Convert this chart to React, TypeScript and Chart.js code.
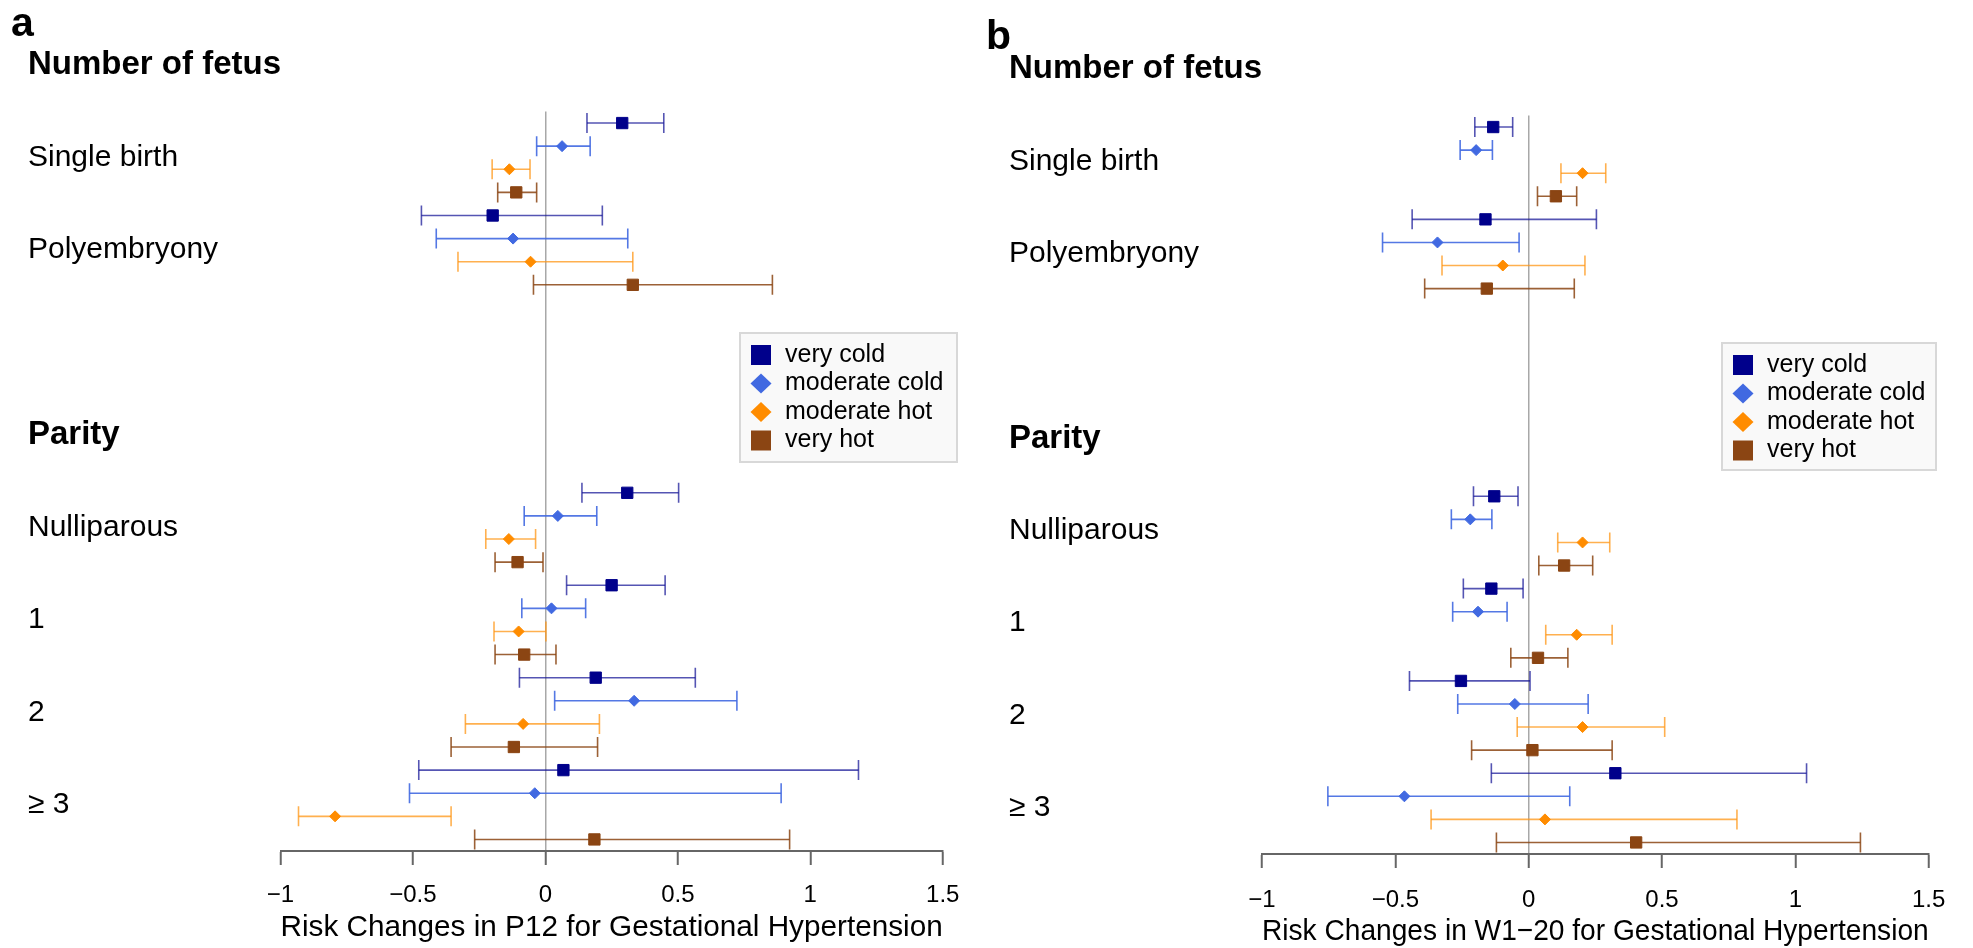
import { useEffect, useRef } from 'react';
import { Chart, registerables } from 'chart.js';

Chart.register(...registerables);

const FONT = "'Liberation Sans', Arial, Helvetica, sans-serif";

// ---- data ----
const seriesNames = ['very cold', 'moderate cold', 'moderate hot', 'very hot'];
const seriesColors = ['#00008B', '#4169E1', '#FF8C00', '#8B4513'];
const seriesLineColors = [
  'rgba(20,20,150,0.72)',
  'rgba(65,105,225,0.9)',
  'rgba(255,150,20,0.75)',
  'rgba(139,69,19,0.85)',
];
const seriesShapes = ['rect', 'rectRot', 'rectRot', 'rect'];

const categories = ['Single birth', 'Polyembryony', 'Nulliparous', '1', '2', '≥ 3'];
const categoryFirstRow = [0, 4, 16, 20, 24, 28];
const headers = ['Number of fetus', 'Parity'];
const headerRows = [-2.5, 13.5];
const xTicks = [-1, -0.5, 0, 0.5, 1, 1.5];

// Panel a (P12): [estimate, lower, upper] per category
const p12VeryCold = [[0.29, 0.157, 0.447], [-0.199, -0.468, 0.215], [0.309, 0.138, 0.503], [0.25, 0.08, 0.452], [0.19, -0.098, 0.566], [0.068, -0.478, 1.182]];
const p12ModCold = [[0.063, -0.033, 0.169], [-0.122, -0.412, 0.311], [0.047, -0.08, 0.194], [0.023, -0.089, 0.152], [0.335, 0.035, 0.723], [-0.04, -0.513, 0.89]];
const p12ModHot = [[-0.136, -0.201, -0.058], [-0.056, -0.33, 0.33], [-0.138, -0.225, -0.037], [-0.101, -0.194, 0.002], [-0.084, -0.302, 0.204], [-0.794, -0.932, -0.356]];
const p12VeryHot = [[-0.11, -0.18, -0.033], [0.33, -0.045, 0.857], [-0.105, -0.19, -0.009], [-0.08, -0.19, 0.04], [-0.119, -0.356, 0.197], [0.185, -0.267, 0.922]];

// Panel b (W1-20)
const w120VeryCold = [[-0.133, -0.202, -0.06], [-0.162, -0.437, 0.254], [-0.129, -0.207, -0.04], [-0.14, -0.245, -0.021], [-0.254, -0.447, 0.005], [0.325, -0.14, 1.042]];
const w120ModCold = [[-0.197, -0.257, -0.136], [-0.342, -0.548, -0.036], [-0.219, -0.29, -0.138], [-0.19, -0.285, -0.081], [-0.052, -0.266, 0.223], [-0.466, -0.753, 0.154]];
const w120ModHot = [[0.202, 0.121, 0.289], [-0.097, -0.325, 0.211], [0.202, 0.109, 0.304], [0.18, 0.064, 0.313], [0.202, -0.043, 0.51], [0.061, -0.366, 0.781]];
const w120VeryHot = [[0.102, 0.033, 0.18], [-0.157, -0.39, 0.171], [0.133, 0.038, 0.24], [0.035, -0.067, 0.147], [0.014, -0.214, 0.313], [0.403, -0.121, 1.244]];

const panelA = {
  left: 0, width: 975, padLeft: 280.5, padRight: 27, padTop: 111.5, xHeight: 97,
  tickPad: 15.6, titlePadBottom: 5,
  tag: 'a', tagX: 11, tagBaseline: 36, labelX: 28,
  legend: { x: 740, y: 333, w: 217, h: 129 },
  axisTitle: 'Risk Changes in P12 for Gestational Hypertension',
  series: [p12VeryCold, p12ModCold, p12ModHot, p12VeryHot],
};
const panelB = {
  left: 975, width: 998, padLeft: 287, padRight: 44.3, padTop: 115.5, xHeight: 94,
  tickPad: 17.6, titlePadBottom: 1,
  tag: 'b', tagX: 11, tagBaseline: 49, labelX: 34,
  legend: { x: 747, y: 343, w: 214, h: 127 },
  axisTitle: 'Risk Changes in W1\u221220 for Gestational Hypertension',
  series: [w120VeryCold, w120ModCold, w120ModHot, w120VeryHot],
};

const fmtTick = (v: number) => (v < 0 ? '\u2212' + String(Math.abs(v)) : String(v));

const drawShape = (ctx: CanvasRenderingContext2D, shape: string, cx: number, cy: number) => {
  ctx.beginPath();
  if (shape === 'rect') {
    ctx.rect(cx - 10, cy - 10, 20, 20);
  } else {
    ctx.moveTo(cx - 10.5, cy);
    ctx.lineTo(cx, cy - 10);
    ctx.lineTo(cx + 10.5, cy);
    ctx.lineTo(cx, cy + 10);
    ctx.closePath();
  }
  ctx.fill();
};

const panelTextPlugin = {
  id: 'panelText',
  afterDraw(chart: any, _args: any, opts: any) {
    const { ctx } = chart;
    const y = chart.scales.y;
    ctx.save();
    ctx.fillStyle = '#000';
    ctx.textAlign = 'left';
    ctx.textBaseline = 'alphabetic';
    ctx.font = `bold 41px ${FONT}`;
    ctx.fillText(opts.tag, opts.tagX, opts.tagBaseline);

    ctx.textBaseline = 'middle';
    ctx.font = `bold 33px ${FONT}`;
    headers.forEach((h, i) => ctx.fillText(h, opts.labelX, y.getPixelForValue(headerRows[i])));
    ctx.font = `30px ${FONT}`;
    categories.forEach((c, i) => ctx.fillText(c, opts.labelX, y.getPixelForValue(categoryFirstRow[i] + 1.5)));

    // legend box
    const L = opts.legend;
    ctx.fillStyle = '#f9f9f9';
    ctx.fillRect(L.x, L.y, L.w, L.h);
    ctx.strokeStyle = '#d8d8d8';
    ctx.lineWidth = 2;
    ctx.strokeRect(L.x, L.y, L.w, L.h);
    ctx.font = `25px ${FONT}`;
    seriesNames.forEach((name, i) => {
      const cy = L.y + 22 + i * 28.5;
      ctx.fillStyle = seriesColors[i];
      drawShape(ctx, seriesShapes[i], L.x + 21, cy);
      ctx.fillStyle = '#000';
      ctx.fillText(name, L.x + 45, cy);
    });
    ctx.restore();
  },
};

function Panel({ cfg }: { cfg: any }) {
  const ref = useRef<HTMLCanvasElement>(null);
  useEffect(() => {
    const datasets: any[] = [];
    cfg.series.forEach((rows: number[][], s: number) => {
      const whisker: any[] = [];
      const marks: any[] = [];
      rows.forEach(([est, lo, hi], c) => {
        const r = categoryFirstRow[c] + s;
        whisker.push({ x: lo, y: r }, { x: hi, y: r }, { x: null, y: null });
        marks.push({ x: est, y: r });
      });
      datasets.push({
        type: 'scatter',
        label: seriesNames[s] + ' CI',
        data: whisker,
        showLine: true,
        spanGaps: false,
        borderColor: seriesLineColors[s],
        borderWidth: 1.6,
        pointStyle: 'line',
        pointRotation: 90,
        pointRadius: 10,
        pointBorderColor: seriesLineColors[s],
        pointBackgroundColor: seriesLineColors[s],
        pointBorderWidth: 1.6,
        order: 2,
      });
      datasets.push({
        type: 'scatter',
        label: seriesNames[s],
        data: marks,
        pointStyle: seriesShapes[s],
        pointRadius: seriesShapes[s] === 'rect' ? 8 : 5.5,
        pointBackgroundColor: seriesColors[s],
        pointBorderColor: seriesColors[s],
        pointBorderWidth: 1,
        order: 1,
      });
    });

    const chart = new Chart(ref.current as HTMLCanvasElement, {
      type: 'scatter',
      data: { datasets },
      plugins: [panelTextPlugin],
      options: {
        animation: false,
        responsive: false,
        events: [],
        layout: { padding: { left: cfg.padLeft, right: cfg.padRight, top: cfg.padTop, bottom: 0 } },
        plugins: {
          legend: { display: false },
          tooltip: { enabled: false },
          title: { display: false },
          panelText: { tag: cfg.tag, tagX: cfg.tagX, tagBaseline: cfg.tagBaseline, labelX: cfg.labelX, legend: cfg.legend },
        } as any,
        scales: {
          x: {
            type: 'linear',
            min: -1,
            max: 1.5,
            afterBuildTicks: (sc: any) => {
              sc.ticks = xTicks.map((v) => ({ value: v }));
            },
            afterFit: (sc: any) => {
              sc.height = cfg.xHeight;
            },
            ticks: {
              font: { size: 24, family: FONT },
              color: '#000',
              padding: cfg.tickPad,
              maxRotation: 0,
              autoSkip: false,
              callback: (v: any) => fmtTick(Number(v)),
            },
            grid: {
              display: true,
              drawOnChartArea: true,
              drawTicks: true,
              tickLength: 14,
              lineWidth: 1.5,
              color: (c: any) => (c.tick && c.tick.value === 0 ? '#a8a8a8' : 'rgba(0,0,0,0)'),
              tickColor: '#666',
              tickWidth: 2,
            },
            border: { display: true, color: '#666', width: 2 },
            title: {
              display: true,
              text: cfg.axisTitle,
              color: '#000',
              font: { size: 30, family: FONT, lineHeight: 1 },
              padding: { top: 0, bottom: cfg.titlePadBottom },
            },
          },
          y: { type: 'linear', display: false, reverse: true, min: -0.5, max: 31.5 },
        },
      } as any,
    });
    return () => chart.destroy();
  }, []);
  return (
    <canvas
      ref={ref}
      width={cfg.width}
      height={948}
      style={{ position: 'absolute', left: cfg.left, top: 0, width: cfg.width, height: 948 }}
    />
  );
}

export default function App() {
  return (
    <div style={{ position: 'absolute', left: 0, top: 0, width: 1973, height: 948, background: '#fff' }}>
      <Panel cfg={panelA} />
      <Panel cfg={panelB} />
    </div>
  );
}
